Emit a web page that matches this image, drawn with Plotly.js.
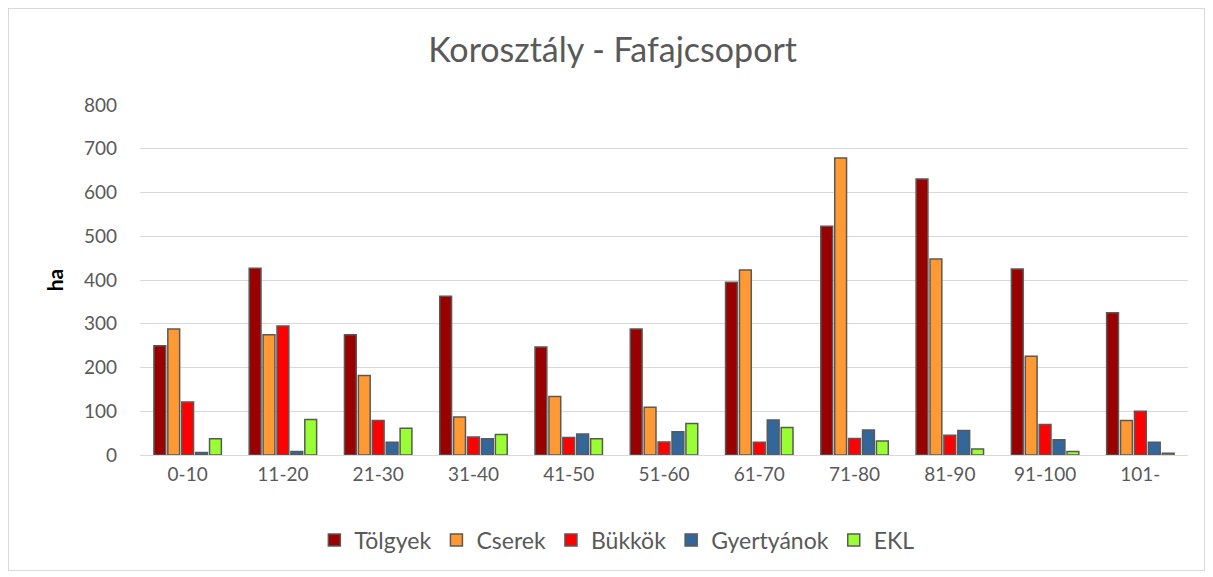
<!DOCTYPE html>
<html><head><meta charset="utf-8">
<script src="https://cdn.plot.ly/plotly-3.0.1.min.js"></script>
<style>html,body{margin:0;padding:0;background:#fff}#wrap{position:relative;width:1213px;height:577px}#chart{width:1213px;height:577px}#frame{position:absolute;left:8px;top:8px;width:1195px;height:561px;border:1px solid #d9d9d9;pointer-events:none}</style>
</head><body><div id="wrap"><div id="chart"></div><div id="frame"></div></div>
<script>
const categories = ["0-10","11-20","21-30","31-40","41-50","51-60","61-70","71-80","81-90","91-100","101-"];
const tolgyek    = [250, 427, 275, 363, 247, 288, 395, 523, 631, 425, 325];
const cserek     = [288, 275, 182, 87, 134, 109, 423, 679, 448, 226, 79];
const bukkok     = [121, 295, 79, 41, 40, 30, 29, 38, 45, 70, 100];
const gyertyanok = [6, 8, 29, 37, 48, 53, 80, 57, 56, 35, 29];
const ekl        = [37, 81, 61, 47, 37, 72, 63, 32, 14, 8, 4];
const seriesNames = ["Tölgyek","Cserek","Bükkök","Gyertyánok","EKL"];
const colors = ["#990000","#ff9933","#ff0000","#336699","#99ff33"];
const values = [tolgyek, cserek, bukkok, gyertyanok, ekl];
const yTicks = [0,100,200,300,400,500,600,700,800];

const font = "Lato, 'Liberation Sans', sans-serif";
const traces = values.map((v,i)=>({
  type:'bar', name:seriesNames[i], x:categories, y:v,
  marker:{color:colors[i], line:{color:'#595959', width:1.5}}
}));
const layout = {
  width:1213, height:577,
  margin:{l:140, r:25, t:105, b:122},
  paper_bgcolor:'#fff', plot_bgcolor:'#fff',
  font:{family:font, color:'#595959', size:19},
  title:{text:'Korosztály - Fafajcsoport', font:{family:font, size:34, color:'#595959'}, x:0.505, xanchor:'center', y:0.913, yanchor:'middle'},
  barmode:'group', bargap:0.27, bargroupgap:0.15,
  xaxis:{type:'category', showgrid:false, showline:true, linecolor:'#d9d9d9', ticks:'', tickfont:{size:19, color:'#595959'}, ticklabelstandoff:2},
  yaxis:{title:{text:'ha', font:{size:21, color:'#000', weight:'bold'}, standoff:14}, range:[0,800], tickvals:yTicks, gridcolor:'#d9d9d9', gridwidth:1, zeroline:false, ticks:'', ticklabelstandoff:22, tickfont:{size:19,color:'#595959'}},
  showlegend:true,
  legend:{orientation:'h', x:0.455, xanchor:'center', y:-0.243, yanchor:'middle', font:{size:23, color:'#595959'}, itemwidth:30, traceorder:'normal'}
};
Plotly.newPlot('chart', traces, layout, {displayModeBar:false, staticPlot:true});
</script></body></html>
